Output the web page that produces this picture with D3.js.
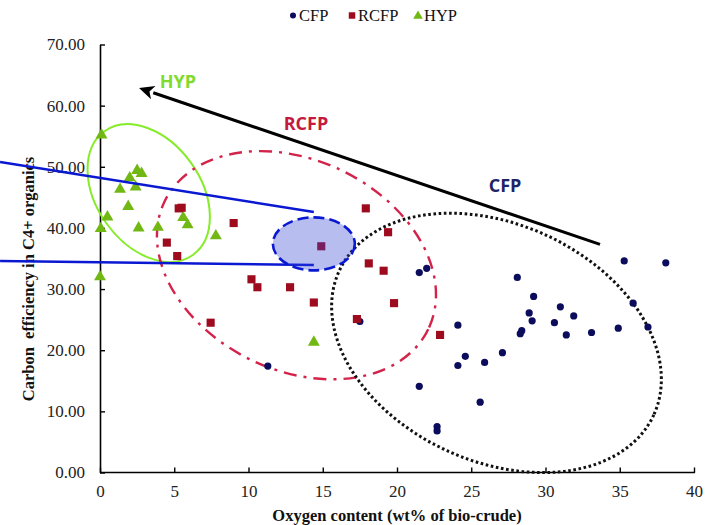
<!DOCTYPE html>
<html><head><meta charset="utf-8">
<script src="https://cdn.jsdelivr.net/npm/d3@7"></script>
<style>body{margin:0;background:#fff}svg{display:block}</style>
</head><body>
<svg id="c" width="705" height="525"></svg>
<script>
// ---- data (x: oxygen wt%, y: carbon efficiency %) ----
const cfpX = [11.3,17.5,21.5,22.0,21.5,22.7,22.7,24.1,24.6,24.1,25.9,25.6,27.1,28.1,28.4,28.3,28.9,29.2,29.1,30.6,31.0,31.4,31.9,33.1,34.9,35.3,35.9,36.9,38.1];
const cfpY = [17.4,24.7,32.7,33.4,14.1,7.5,6.8,24.1,19.0,17.5,18.0,11.5,19.6,31.9,23.2,22.7,26.1,28.8,24.8,24.5,27.1,22.5,25.6,22.9,23.6,34.6,27.7,23.8,34.3];
const rcfpX = [5.3,5.5,9.0,4.5,5.2,14.9,17.9,19.4,18.1,19.1,10.2,10.6,12.8,14.4,19.8,7.45,17.3,22.9];
const rcfpY = [43.2,43.3,40.8,37.6,35.4,37.0,43.2,39.3,34.2,33.0,31.6,30.3,30.3,27.8,27.7,24.5,25.1,22.5];
const hypX = [0.1,2.5,2.8,2.0,2.4,1.35,1.9,0.5,0.05,2.6,3.9,5.6,5.9,7.8,0.0,14.4];
const hypY = [55.2,49.4,48.9,48.2,46.7,46.3,43.5,41.8,39.9,40.0,40.1,41.7,40.5,38.7,32.0,21.3];
const xTicks = [0,5,10,15,20,25,30,35,40];
const yTicks = [0,10,20,30,40,50,60,70];
const legendLabels = ["CFP","RCFP","HYP"];

const svg = d3.select("#c");
const x = d3.scaleLinear().domain([0,40]).range([100,694]);
const y = d3.scaleLinear().domain([0,70]).range([472.5,44.5]);

const serif = "'Liberation Serif','Times New Roman',serif";
const sans = "'Open Sans','Noto Sans',sans-serif";

// ---- axes ----
const xAxis = svg.append("g").attr("transform",`translate(0,${y(0)})`)
  .call(d3.axisBottom(x).tickValues(xTicks).tickSizeInner(-5).tickSizeOuter(0).tickPadding(12).tickFormat(d3.format("d")));
const yAxis = svg.append("g").attr("transform",`translate(${x(0)},0)`)
  .call(d3.axisLeft(y).tickValues(yTicks).tickSizeInner(-5).tickSizeOuter(0).tickPadding(15).tickFormat(d3.format(".2f")));
[xAxis,yAxis].forEach(a=>{
  a.select(".domain").attr("stroke","#000").attr("stroke-width",1.6);
  a.selectAll(".tick line").attr("stroke","#000").attr("stroke-width",1.4);
  a.selectAll(".tick text").attr("fill","#222").style("font-family",serif).style("font-size","17px");
});
xAxis.select(".domain").attr("d",`M${x(0)},0H${x(40)+1}`);

svg.append("text").attr("x",397).attr("y",521).attr("text-anchor","middle")
  .style("font-family",serif).style("font-weight","bold").style("font-size","16.5px").attr("fill","#111")
  .text("Oxygen content (wt% of bio-crude)");
svg.append("text").attr("transform","translate(34,279) rotate(-90)").attr("text-anchor","middle")
  .style("font-family",serif).style("font-weight","bold").style("font-size","16.5px").attr("fill","#111")
  .attr("xml:space","preserve").text("Carbon  efficiency in C4+ organics");

// ---- annotation ellipses (centres in data units) ----
function ell(cx,cy,rx,ry,rot){
  return svg.append("ellipse").attr("cx",0).attr("cy",0).attr("rx",rx).attr("ry",ry)
    .attr("transform",`translate(${x(cx)},${y(cy)}) rotate(${rot})`).attr("fill","none");
}
ell(3.28,45.7,52,76,-35.5).attr("stroke","#86ec2a").attr("stroke-width",2);
ell(13.23,33.9,146.5,105,25.9).attr("stroke","#d3234a").attr("stroke-width",2.4)
  .attr("stroke-dasharray","13,7,3,7");
ell(26.7,21.2,173,118.6,24.6).attr("stroke","#111").attr("stroke-width",3)
  .attr("stroke-dasharray","2.6,2.6");

// ---- points ----
const triangle = d3.symbol().type(d3.symbolTriangle).size(62);
const square = d3.symbol().type(d3.symbolSquare).size(66);
svg.append("g").selectAll("path").data(hypX.map((d,i)=>[d,hypY[i]])).join("path")
  .attr("d",triangle).attr("transform",d=>`translate(${x(d[0])},${y(d[1])})`).attr("fill","#72b815");
svg.append("g").selectAll("circle").data(cfpX.map((d,i)=>[d,cfpY[i]])).join("circle")
  .attr("cx",d=>x(d[0])).attr("cy",d=>y(d[1])).attr("r",3.6).attr("fill","#0b0d5c");
svg.append("g").selectAll("path").data(rcfpX.map((d,i)=>[d,rcfpY[i]])).join("path")
  .attr("d",square).attr("transform",d=>`translate(${x(d[0])},${y(d[1])})`).attr("fill","#9e0b1f");

// ---- blue zoom-lines and highlighted ellipse ----
const blue = "#0a18d2";
const line = d3.line().x(d=>x(d[0])).y(d=>y(d[1]));
svg.append("path").attr("d",line([[-6.73,50.8],[14.4,42.6]])).attr("stroke",blue).attr("stroke-width",2.5).attr("fill","none");
svg.append("path").attr("d",line([[-6.73,34.6],[14.4,33.95]])).attr("stroke",blue).attr("stroke-width",2.5).attr("fill","none");
svg.append("ellipse").attr("cx",x(14.4)).attr("cy",y(37.4)).attr("rx",41).attr("ry",26.5)
  .attr("fill","rgb(52,66,212)").attr("fill-opacity",0.35)
  .attr("stroke",blue).attr("stroke-width",2.6).attr("stroke-dasharray","11,5");

// ---- arrow ----
const a0=[33.67,37.3], a1=[2.63,62.9];
const p0=[x(a0[0]),y(a0[1])], p1=[x(a1[0]),y(a1[1])];
const ang=Math.atan2(p1[1]-p0[1],p1[0]-p0[0]);
const L=15, W=7;
const base=[p1[0]-L*Math.cos(ang), p1[1]-L*Math.sin(ang)];
svg.append("line").attr("x1",p0[0]).attr("y1",p0[1]).attr("x2",base[0]).attr("y2",base[1])
  .attr("stroke","#000").attr("stroke-width",3);
svg.append("path").attr("d",`M${p1[0]},${p1[1]}L${base[0]+W*Math.sin(ang)},${base[1]-W*Math.cos(ang)}L${base[0]+4*Math.cos(ang)},${base[1]+4*Math.sin(ang)}L${base[0]-W*Math.sin(ang)},${base[1]+W*Math.cos(ang)}Z`)
  .attr("fill","#000");

// ---- group labels ----
function lab(t,cx,by,col){
  svg.append("text").attr("x",cx).attr("y",by).attr("text-anchor","middle")
   .style("font-family",sans).style("font-weight","bold").style("font-size","18px").attr("fill",col).text(t);
}
lab("HYP",178,88,"#7fdb2c");
lab("RCFP",306,130,"#c41a40");
lab("CFP",505,192,"#1e2466");

// ---- legend ----
const lg = svg.append("g").style("font-family",serif).style("font-size","16.5px").attr("fill","#111");
lg.append("circle").attr("cx",293).attr("cy",15.5).attr("r",3).attr("fill","#0b0d5c");
lg.append("text").attr("x",299).attr("y",21).text(legendLabels[0]);
lg.append("path").attr("d",d3.symbol().type(d3.symbolSquare).size(42)).attr("transform","translate(352,15.5)").attr("fill","#9e0b1f");
lg.append("text").attr("x",358).attr("y",21).text(legendLabels[1]);
lg.append("path").attr("d",d3.symbol().type(d3.symbolTriangle).size(40)).attr("transform","translate(418,16)").attr("fill","#72b815");
lg.append("text").attr("x",424).attr("y",21).text(legendLabels[2]);
</script>
</body></html>
